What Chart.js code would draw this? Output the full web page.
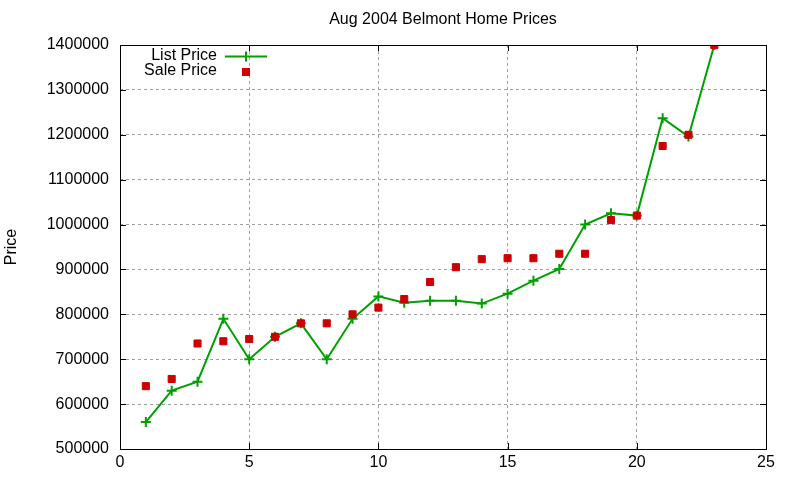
<!DOCTYPE html>
<html>
<head>
<meta charset="utf-8">
<script src="https://cdn.jsdelivr.net/npm/chart.js@4"></script>
<style>
  html, body { margin: 0; padding: 0; background: #fff; }
  #wrap { width: 800px; height: 480px; }
</style>
</head>
<body>
<div id="wrap"><canvas id="chart" width="800" height="480"></canvas></div>
<script>
const houseIndex = [1, 2, 3, 4, 5, 6, 7, 8, 9, 10, 11, 12, 13, 14, 15, 16, 17, 18, 19, 20, 21, 22, 23];
const listPrice = [560000, 630000, 650000, 790000, 700000, 750000, 780000, 700000, 790000, 840000, 826000, 830000, 830000, 824000, 846000, 875000, 901000, 1000000, 1025000, 1020000, 1237000, 1196000, 1400000];
const salePrice = [640000, 656000, 735000, 740000, 745000, 750000, 780000, 780000, 800000, 815000, 834000, 872000, 905000, 923000, 925000, 925000, 935000, 935000, 1010000, 1020000, 1175000, 1200000, 1400000];
const xTicks = [0, 5, 10, 15, 20, 25];
const yTicks = [500000, 600000, 700000, 800000, 900000, 1000000, 1100000, 1200000, 1300000, 1400000];

const FONT = "'Liberation Sans', Arial, sans-serif";
const GREEN = "#00a000";
const RED = "#cc0000";

function toPoints(values) {
  return houseIndex.map((x, i) => ({ x, y: values[i] }));
}

const framePlugin = {
  id: "frame",
  afterDraw(chart) {
    const { ctx, chartArea: a, scales } = chart;
    ctx.save();
    ctx.strokeStyle = "#000";
    ctx.lineWidth = 1;
    ctx.beginPath();
    yTicks.forEach((v) => {
      const py = Math.round(scales.y.getPixelForValue(v)) + 0.5;
      ctx.moveTo(a.left, py); ctx.lineTo(a.left + 6, py);
      ctx.moveTo(a.right, py); ctx.lineTo(a.right - 6, py);
    });
    xTicks.forEach((v) => {
      const px = Math.round(scales.x.getPixelForValue(v)) + 0.5;
      ctx.moveTo(px, a.bottom); ctx.lineTo(px, a.bottom - 6);
      ctx.moveTo(px, a.top); ctx.lineTo(px, a.top + 6);
    });
    ctx.stroke();
    ctx.strokeRect(Math.round(a.left) + 0.5, Math.round(a.top) + 0.5, Math.round(a.right - a.left), Math.round(a.bottom - a.top));

    ctx.fillStyle = "#000";
    ctx.font = `16px ${FONT}`;
    ctx.textAlign = "center";
    ctx.textBaseline = "middle";
    ctx.fillText("Aug 2004 Belmont Home Prices", (a.left + a.right) / 2, 20);

    ctx.save();
    ctx.translate(12, (a.top + a.bottom) / 2);
    ctx.rotate(-Math.PI / 2);
    ctx.fillText("Price", 0, 0);
    ctx.restore();

    // legend
    ctx.textAlign = "right";
    ctx.fillText("List Price", 217, 56);
    ctx.fillText("Sale Price", 217, 71);
    ctx.strokeStyle = GREEN;
    ctx.lineWidth = 2;
    ctx.beginPath();
    ctx.moveTo(225, 56.5); ctx.lineTo(267, 56.5);
    ctx.moveTo(246, 51.5); ctx.lineTo(246, 61.5);
    ctx.stroke();
    ctx.fillStyle = RED;
    ctx.fillRect(242, 68, 8, 8);
    ctx.restore();
  },
};

new Chart(document.getElementById("chart"), {
  type: "scatter",
  data: {
    datasets: [
      {
        label: "List Price",
        data: toPoints(listPrice),
        showLine: true,
        borderColor: GREEN,
        backgroundColor: GREEN,
        borderWidth: 2,
        pointStyle: "cross",
        pointRadius: 5,
        pointBorderWidth: 2,
        tension: 0,
        order: 1,
      },
      {
        label: "Sale Price",
        data: toPoints(salePrice),
        showLine: false,
        borderColor: RED,
        backgroundColor: RED,
        pointStyle: "rect",
        pointRadius: 5,
        pointBorderWidth: 1,
        order: 0,
      },
    ],
  },
  options: {
    responsive: false,
    animation: false,
    layout: { padding: { left: 0, right: 34, top: 45, bottom: 0 } },
    plugins: {
      legend: { display: false },
      title: { display: false },
      tooltip: { enabled: false },
    },
    scales: {
      x: {
        type: "linear",
        min: 0,
        max: 25,
        afterBuildTicks: (scale) => { scale.ticks = xTicks.map((value) => ({ value })); },
        afterFit: (scale) => { scale.height = 31; },
        ticks: { color: "#000", font: { family: FONT, size: 16 }, padding: 4, callback: (v) => String(v) },
        grid: {
          drawTicks: false,
          color: (c) => (c.tick && (c.tick.value === 0 || c.tick.value === 25) ? "rgba(0,0,0,0)" : "#a0a0a0"),
          lineWidth: 1,
        },
        border: { display: false, dash: [3, 3] },
      },
      y: {
        min: 500000,
        max: 1400000,
        afterBuildTicks: (scale) => { scale.ticks = yTicks.map((value) => ({ value })); },
        afterFit: (scale) => { scale.width = 120; },
        ticks: { color: "#000", font: { family: FONT, size: 16 }, padding: 11, callback: (v) => String(v) },
        grid: {
          drawTicks: false,
          color: (c) => (c.tick && (c.tick.value === 500000 || c.tick.value === 1400000) ? "rgba(0,0,0,0)" : "#a0a0a0"),
          lineWidth: 1,
        },
        border: { display: false, dash: [3, 3] },
      },
    },
  },
  plugins: [framePlugin],
});
</script>
</body>
</html>
